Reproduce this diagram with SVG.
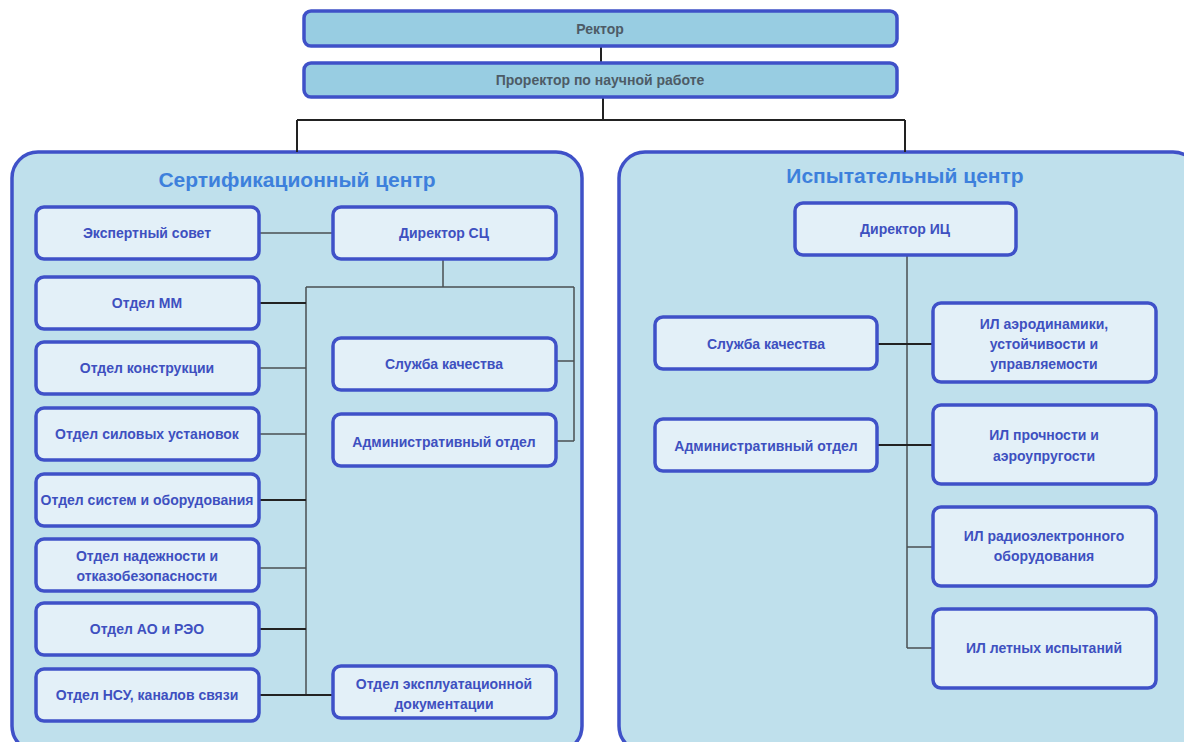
<svg xmlns="http://www.w3.org/2000/svg" width="1184" height="742" viewBox="0 0 1184 742">
<style>
.top{fill:#98cde2;stroke:#3f51c8;stroke-width:3.5}
.ttop{font-family:"Liberation Sans",Arial,sans-serif;font-weight:bold;font-size:14px;fill:#4d5b66;text-anchor:middle}
.cont{fill:#bfe0ec;stroke:#3f51c8;stroke-width:3.5}
.title{font-family:"Liberation Sans",Arial,sans-serif;font-weight:bold;font-size:21px;fill:#3d80dc;text-anchor:middle}
.box{fill:#e3f0f8;stroke:#3f51c8;stroke-width:3.5}
.t{font-family:"Liberation Sans",Arial,sans-serif;font-weight:bold;font-size:14px;fill:#3e50c0;text-anchor:middle}
.c{fill:none;stroke:#4a4f52;stroke-width:1.5}
.cd{fill:none;stroke:#222;stroke-width:2}
</style>
<rect width="1184" height="742" fill="#ffffff"/>
<g id="sc"><rect class="cont" x="12" y="152" width="570" height="600" rx="26"/><text class="title" x="297" y="187">Сертификационный центр</text></g>
<g id="ic"><rect class="cont" x="619" y="152" width="580" height="600" rx="26"/><text class="title" x="905" y="183">Испытательный центр</text></g>
<g id="connectors">
<path class="cd" d="M601 46V62M603 97V120M297 120H905M297 120V152M905 120V152"/>
<path class="c" d="M259 233H332M443 259V287M306 287H574M306 287V695M574 287V441M556 361H574M556 441H574"/>
<path class="cd" d="M259 303H306M259 500H306M259 629H306M259 695H332"/>
<path class="c" d="M259 368H306M259 434H306M259 568H306"/>
<path class="c" d="M907 255V648M907 547H932M907 648H932"/>
<path class="cd" d="M877 344H932M877 445H932"/>
</g>
<g id="rector"><rect class="top" x="304" y="11" width="593" height="35" rx="7"/><text class="ttop" x="600" y="34">Ректор</text></g>
<g id="prorector"><rect class="top" x="304" y="63" width="593" height="34" rx="7"/><text class="ttop" x="600" y="85">Проректор по научной работе</text></g>
<g id="expert"><rect class="box" x="36" y="207" width="223" height="52" rx="8"/><text class="t" x="147" y="238">Экспертный совет</text></g>
<g id="dir-sc"><rect class="box" x="333" y="207" width="223" height="52" rx="8"/><text class="t" x="444" y="238">Директор СЦ</text></g>
<g id="mm"><rect class="box" x="36" y="277" width="223" height="52" rx="8"/><text class="t" x="147" y="308">Отдел ММ</text></g>
<g id="konstr"><rect class="box" x="36" y="342" width="223" height="52" rx="8"/><text class="t" x="147" y="373">Отдел конструкции</text></g>
<g id="silov"><rect class="box" x="36" y="408" width="223" height="52" rx="8"/><text class="t" x="147" y="439">Отдел силовых установок</text></g>
<g id="sistem"><rect class="box" x="36" y="474" width="223" height="52" rx="8"/><text class="t" x="147" y="505">Отдел систем и оборудования</text></g>
<g id="nadezh"><rect class="box" x="36" y="539" width="223" height="52" rx="8"/><text class="t" x="147" y="561">Отдел надежности и</text><text class="t" x="147" y="581">отказобезопасности</text></g>
<g id="ao"><rect class="box" x="36" y="603" width="223" height="52" rx="8"/><text class="t" x="147" y="634">Отдел АО и РЭО</text></g>
<g id="nsu"><rect class="box" x="36" y="669" width="223" height="52" rx="8"/><text class="t" x="147" y="700">Отдел НСУ, каналов связи</text></g>
<g id="kach-sc"><rect class="box" x="333" y="338" width="223" height="52" rx="8"/><text class="t" x="444" y="369">Служба качества</text></g>
<g id="adm-sc"><rect class="box" x="333" y="414" width="223" height="52" rx="8"/><text class="t" x="444" y="447">Административный отдел</text></g>
<g id="expl"><rect class="box" x="333" y="666" width="223" height="52" rx="8"/><text class="t" x="444" y="689">Отдел эксплуатационной</text><text class="t" x="444" y="709">документации</text></g>
<g id="dir-ic"><rect class="box" x="795" y="203" width="221" height="52" rx="8"/><text class="t" x="905" y="234">Директор ИЦ</text></g>
<g id="kach-ic"><rect class="box" x="655" y="317" width="222" height="52" rx="8"/><text class="t" x="766" y="349">Служба качества</text></g>
<g id="adm-ic"><rect class="box" x="655" y="419" width="222" height="52" rx="8"/><text class="t" x="766" y="451">Административный отдел</text></g>
<g id="il-aero"><rect class="box" x="933" y="303" width="223" height="79" rx="8"/><text class="t" x="1044" y="329">ИЛ аэродинамики,</text><text class="t" x="1044" y="349">устойчивости и</text><text class="t" x="1044" y="369">управляемости</text></g>
<g id="il-pr"><rect class="box" x="933" y="405" width="223" height="79" rx="8"/><text class="t" x="1044" y="440">ИЛ прочности и</text><text class="t" x="1044" y="461">аэроупругости</text></g>
<g id="il-re"><rect class="box" x="933" y="507" width="223" height="79" rx="8"/><text class="t" x="1044" y="541">ИЛ радиоэлектронного</text><text class="t" x="1044" y="561">оборудования</text></g>
<g id="il-let"><rect class="box" x="933" y="609" width="223" height="79" rx="8"/><text class="t" x="1044" y="653">ИЛ летных испытаний</text></g>
</svg>
